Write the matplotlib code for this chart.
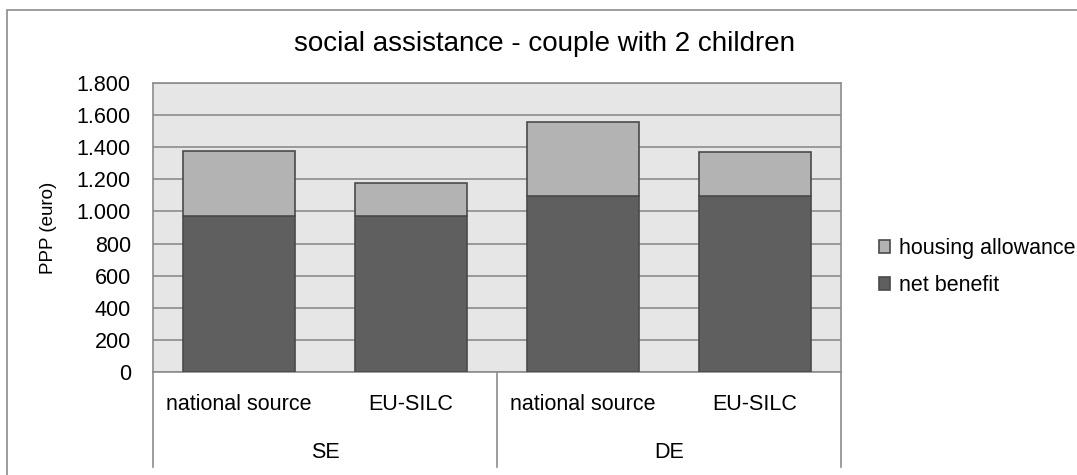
import matplotlib
matplotlib.use('Agg')
import matplotlib.pyplot as plt
from matplotlib.patches import Rectangle
from matplotlib.ticker import FuncFormatter
import numpy as np

plt.rcParams['font.family'] = ['Liberation Sans', 'DejaVu Sans']

# data
countries = ["SE", "DE"]
sources = ["national source", "EU-SILC", "national source", "EU-SILC"]
net_benefit = [971, 971, 1096, 1096]
housing_allowance = [407, 204, 459, 272]
y_ticks = [0, 200, 400, 600, 800, 1000, 1200, 1400, 1600, 1800]

W, H = 1077, 475
fig = plt.figure(figsize=(W / 100, H / 100), dpi=100)

# outer chart border (right and bottom edges fall outside the image)
fig.patches.append(Rectangle((7 / W, -0.05), 1.1, 1.05 - 10 / H,
                             transform=fig.transFigure, fill=False,
                             edgecolor='#8c8c8c', linewidth=1.2))

ax = fig.add_axes([153 / W, 1 - 372 / H, 688 / W, 289 / H])
ax.set_facecolor('#e6e6e6')

x = np.arange(len(sources))
ax.bar(x, net_benefit, width=0.65, color='#5f5f5f', edgecolor='#4a4a4a',
       linewidth=1.2, label='net benefit', zorder=3)
ax.bar(x, housing_allowance, bottom=net_benefit, width=0.65, color='#b3b3b3',
       edgecolor='#4a4a4a', linewidth=1.2, label='housing allowance', zorder=3)

ax.set_xlim(-0.5, len(sources) - 0.5)
ax.set_ylim(0, 1800)
ax.set_yticks(y_ticks)
ax.yaxis.set_major_formatter(FuncFormatter(lambda v, p: f"{int(v):,}".replace(",", ".")))
ax.tick_params(axis='y', length=0, pad=16, labelsize=15.5)
ax.set_xticks([])
ax.grid(axis='y', color='#8c8c8c', linewidth=1.2, zorder=0)
for s in ax.spines.values():
    s.set_color('#8c8c8c')
    s.set_linewidth(1.2)

ax.set_ylabel("PPP (euro)", fontsize=13.5)
ax.yaxis.set_label_coords(-96 / 688, 0.5)

# two-level category axis
trans = ax.get_xaxis_transform()
for xi, lab in zip(x, sources):
    ax.text(xi, -33 / 289, lab, transform=trans, ha='center', va='center', fontsize=15.5)
for gi, c in enumerate(countries):
    ax.text(2 * gi + 0.5, -81 / 289, c, transform=trans, ha='center', va='center', fontsize=15.5)
for xv in [-0.5, 1.5, 3.5]:
    ax.plot([xv, xv], [0, -95 / 289], transform=trans, color='#8c8c8c',
            linewidth=1.2, clip_on=False)

fig.text(545 / W, 1 - 44 / H, "social assistance - couple with 2 children",
         ha='center', va='center', fontsize=20)

handles, labels = ax.get_legend_handles_labels()
fig.legend(handles[::-1], labels[::-1], loc='center left',
           bbox_to_anchor=(870 / W, 1 - 267 / H), frameon=False, fontsize=15.5,
           handlelength=0.55, handleheight=0.55, handletextpad=0.4, labelspacing=0.75,
           borderaxespad=0)

fig.savefig('out.png', dpi=100)
